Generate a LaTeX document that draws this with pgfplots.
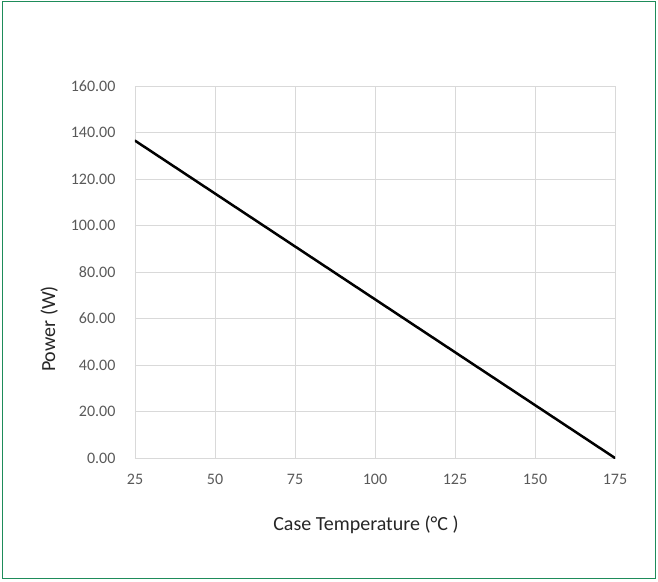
\documentclass[border=0pt]{standalone}
\usepackage{pgfplots}
\pgfplotsset{compat=1.18}
\usepackage{fontspec}
\setmainfont{Carlito}
\definecolor{gridgray}{HTML}{D9D9D9}
\definecolor{ticktext}{HTML}{595959}
\definecolor{frame}{HTML}{1E8C5A}
\begin{document}
\begin{tikzpicture}
\begin{axis}[
    at={(0,0)}, anchor=south west,
    scale only axis,
    width=480pt, height=372pt,
    xmin=25, xmax=175, ymin=0, ymax=160,
    xtick={25,50,...,175},
    ytick={0,20,...,160},
    grid=major,
    grid style={gridgray, line width=0.8pt},
    axis line style={gridgray, line width=0.8pt},
    major tick length=0pt,
    tick label style={font=\fontsize{16}{19}\selectfont, text=ticktext},
    /pgf/number format/assume math mode=true,
    yticklabel={\pgfmathprintnumber[fixed, fixed zerofill, precision=2]{\tick}},
    xticklabel style={yshift=-13pt},
    yticklabel style={xshift=-16pt},
    xlabel={Case Temperature (°C )},
    ylabel={Power (W)},
    label style={font=\fontsize{20}{24}\selectfont, text=black!85},
    xlabel style={yshift=-24pt, xshift=-9pt},
    ylabel style={yshift=6pt, xshift=-57pt},
]
\addplot[black, line width=2.5pt, line cap=round] coordinates {(25,136.5) (175,0)};
\end{axis}
\path[use as bounding box] (-135pt,-123pt) rectangle (523pt,458pt);
\draw[frame, line width=1pt] (-132pt,-120pt) rectangle (520pt,456pt);
\end{tikzpicture}
\end{document}
